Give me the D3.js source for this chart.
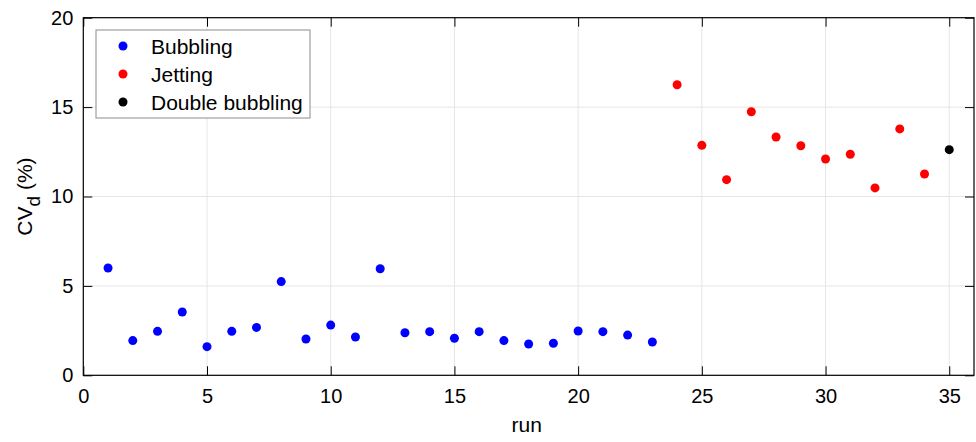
<!DOCTYPE html>
<html><head><meta charset="utf-8">
<script src="https://cdn.jsdelivr.net/npm/d3@7"></script>
<style>body{margin:0;background:#fff}svg{display:block;font-family:Arial,"Liberation Sans",sans-serif}</style>
</head><body><svg id="c" width="976" height="442"></svg>
<script>
const bubblingRuns = [1,2,3,4,5,6,7,8,9,10,11,12,13,14,15,16,17,18,19,20,21,22,23];
const bubblingCV = [6.0,1.94,2.46,3.54,1.60,2.46,2.68,5.24,2.03,2.81,2.14,5.96,2.38,2.44,2.07,2.44,1.94,1.75,1.79,2.48,2.44,2.25,1.86];
const jettingRuns = [24,25,26,27,28,29,30,31,32,33,34];
const jettingCV = [16.25,12.86,10.94,14.74,13.33,12.84,12.10,12.36,10.48,13.78,11.26];
const doubleRuns = [35];
const doubleCV = [12.62];
const xTicks = [0,5,10,15,20,25,30,35];
const yTicks = [0,5,10,15,20];
const seriesNames = ["Bubbling","Jetting","Double bubbling"];
const seriesColors = ["#0000ff","#ff0000","#000000"];

const L=83.3, R=974, T=17.7, B=375.3;
const svg = d3.select("#c");
const x = d3.scaleLinear().domain([0,36]).range([L,R]);
const y = d3.scaleLinear().domain([0,20]).range([B,T]);

// grid
const g = svg.append("g");
g.selectAll(".gx").data(xTicks.filter(d=>d>0)).join("line")
  .attr("x1",d=>x(d)).attr("x2",d=>x(d)).attr("y1",T).attr("y2",B)
  .attr("stroke","#e6e6e6").attr("stroke-width",1);
g.selectAll(".gy").data(yTicks.filter(d=>d>0&&d<20)).join("line")
  .attr("y1",d=>y(d)).attr("y2",d=>y(d)).attr("x1",L).attr("x2",R)
  .attr("stroke","#e6e6e6").attr("stroke-width",1);

// axes
const tl = 9;
const xAxis = d3.axisBottom(x).tickValues(xTicks).tickSize(-tl).tickPadding(14).tickFormat(d3.format("d"));
const yAxis = d3.axisLeft(y).tickValues(yTicks).tickSize(-tl).tickPadding(10).tickFormat(d3.format("d"));
const xa = svg.append("g").attr("transform",`translate(0,${B})`).call(xAxis);
const ya = svg.append("g").attr("transform",`translate(${L},0)`).call(yAxis);
const xt = svg.append("g").attr("transform",`translate(0,${T})`).call(d3.axisTop(x).tickValues(xTicks).tickSize(-tl).tickFormat(""));
const yr = svg.append("g").attr("transform",`translate(${R},0)`).call(d3.axisRight(y).tickValues(yTicks).tickSize(-tl).tickFormat(""));
[xa,ya,xt,yr].forEach(a=>{
  a.select(".domain").remove();
  a.selectAll("line").attr("stroke","#000");
  a.selectAll("text").attr("font-size",20).attr("fill","#000").attr("font-family","Arial, 'Liberation Sans', sans-serif");
});
svg.append("rect").attr("x",L).attr("y",T).attr("width",R-L).attr("height",B-T)
  .attr("fill","none").attr("stroke","#000").attr("stroke-width",1.2);

// points
const series = [
  {runs:bubblingRuns, vals:bubblingCV},
  {runs:jettingRuns, vals:jettingCV},
  {runs:doubleRuns, vals:doubleCV}
];
series.forEach((s,i)=>{
  svg.append("g").selectAll("circle").data(s.runs.map((r,j)=>[r,s.vals[j]])).join("circle")
    .attr("cx",d=>x(d[0])).attr("cy",d=>y(d[1])).attr("r",4.5).attr("fill",seriesColors[i]);
});

// legend
const lg = svg.append("g");
lg.append("rect").attr("x",96).attr("y",30).attr("width",214).attr("height",88)
  .attr("fill","#fff").attr("stroke","#8c8c8c").attr("stroke-width",1);
seriesNames.forEach((n,i)=>{
  const cy = 46 + i*28;
  lg.append("circle").attr("cx",123).attr("cy",cy).attr("r",4.5).attr("fill",seriesColors[i]);
  lg.append("text").attr("x",151).attr("y",cy+7.5).attr("font-size",21).attr("fill","#000").text(n);
});

// labels
svg.append("text").attr("x",(L+R)/2 - 2).attr("y",432).attr("text-anchor","middle").attr("font-size",21).text("run");
const yl = svg.append("text").attr("transform",`translate(32,${(T+B)/2}) rotate(-90)`).attr("text-anchor","middle").attr("font-size",21);
yl.append("tspan").text("CV");
yl.append("tspan").attr("dy",8).attr("font-size",19).text("d");
yl.append("tspan").attr("dy",-8).text(" (%)");
</script></body></html>
